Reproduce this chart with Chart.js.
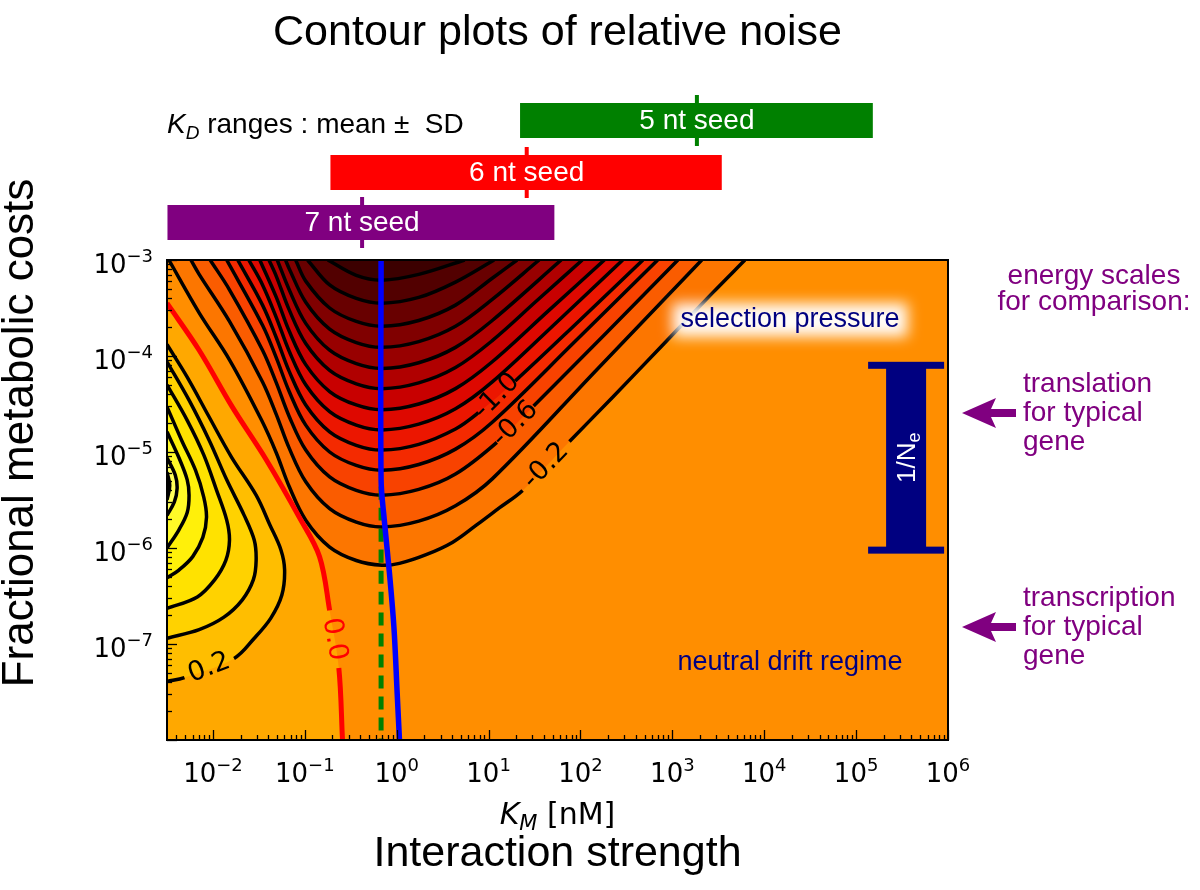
<!DOCTYPE html>
<html>
<head>
<meta charset="utf-8">
<script src="https://cdn.jsdelivr.net/npm/chart.js@4.4.0/dist/chart.umd.min.js"></script>
<style>
  html, body { margin: 0; padding: 0; background: #fff; }
</style>
</head>
<body>
<canvas id="noiseChart" width="1200" height="890"></canvas>
<script>
// ---- data (log10 K_M [nM], log10 fractional cost) ----
const xTickPowers = [-2, -1, 0, 1, 2, 3, 4, 5, 6];
const yTickPowers = [-7, -6, -5, -4, -3];

// zero contour (red) and positive contours (C shapes on the left)
const zeroLine = [[-2.50,-3.45],[-2.15,-3.94],[-1.79,-4.53],[-1.42,-5.08],[-1.06,-5.68],[-0.84,-6.09],[-0.73,-6.65],[-0.63,-7.25],[-0.59,-8.00]];
const pos02 = [[-2.50,-3.88],[-2.28,-4.22],[-2.05,-4.62],[-1.80,-5.05],[-1.53,-5.45],[-1.38,-5.76],[-1.26,-6.02],[-1.22,-6.23],[-1.25,-6.49],[-1.37,-6.73],[-1.55,-6.94],[-1.77,-7.15],[-2.31,-7.35],[-2.50,-7.39]];
const pos04 = [[-2.50,-4.06],[-2.26,-4.46],[-2.04,-4.88],[-1.85,-5.29],[-1.66,-5.66],[-1.55,-5.92],[-1.53,-6.13],[-1.56,-6.33],[-1.68,-6.54],[-1.88,-6.72],[-2.15,-6.85],[-2.50,-6.94]];
const pos06 = [[-2.50,-4.30],[-2.28,-4.67],[-2.10,-5.03],[-1.96,-5.40],[-1.85,-5.71],[-1.82,-5.92],[-1.86,-6.13],[-1.98,-6.33],[-2.17,-6.51],[-2.50,-6.63]];
const pos08 = [[-2.50,-4.53],[-2.34,-4.88],[-2.19,-5.19],[-2.10,-5.47],[-2.07,-5.68],[-2.11,-5.89],[-2.22,-6.09],[-2.37,-6.23],[-2.50,-6.31]];
const pos10 = [[-2.50,-4.79],[-2.37,-5.06],[-2.28,-5.29],[-2.26,-5.45],[-2.28,-5.63],[-2.37,-5.81],[-2.50,-6.00]];
const pos12 = [[-2.50,-5.06],[-2.41,-5.24],[-2.39,-5.38],[-2.42,-5.52],[-2.50,-5.66]];
const pos14 = [[-2.50,-5.21],[-2.47,-5.35],[-2.50,-5.50]];

// negative contours (U shapes opening to the top)
const neg02 = [[-2.48,-3.00],[-2.15,-3.55],[-1.82,-4.04],[-1.47,-4.67],[-1.31,-5.01],[-1.17,-5.36],[-0.99,-5.71],[-0.73,-5.99],[-0.44,-6.13],[-0.16,-6.18],[0.03,-6.16],[0.32,-6.07],[0.61,-5.94],[0.87,-5.76],[1.12,-5.58],[1.37,-5.40],[1.88,-4.89],[2.35,-4.43],[2.89,-3.89],[3.44,-3.34],[3.79,-3.00]];
const neg04 = [[-2.24,-3.00],[-2.15,-3.15],[-1.82,-3.64],[-1.46,-4.27],[-1.31,-4.61],[-1.17,-4.96],[-0.99,-5.31],[-0.73,-5.59],[-0.44,-5.73],[-0.16,-5.78],[0.24,-5.72],[0.64,-5.56],[1.04,-5.28],[2.18,-4.14],[3.32,-3.00]];
const neg06 = [[-2.03,-3.00],[-1.82,-3.31],[-1.46,-3.94],[-1.31,-4.28],[-1.17,-4.63],[-0.99,-4.98],[-0.73,-5.26],[-0.44,-5.40],[-0.16,-5.45],[0.24,-5.39],[0.64,-5.23],[1.09,-4.90],[1.49,-4.52],[2.28,-3.76],[3.06,-3.00]];
const neg08 = [[-1.85,-3.00],[-1.46,-3.68],[-1.31,-4.02],[-1.17,-4.37],[-0.99,-4.72],[-0.73,-5.00],[-0.44,-5.14],[-0.16,-5.19],[0.24,-5.13],[0.64,-4.97],[1.04,-4.69],[1.94,-3.85],[2.84,-3.00]];
const neg10 = [[-1.73,-3.00],[-1.46,-3.47],[-1.31,-3.81],[-1.17,-4.16],[-0.99,-4.51],[-0.73,-4.79],[-0.44,-4.93],[-0.16,-4.98],[0.24,-4.92],[0.64,-4.76],[0.89,-4.59],[1.29,-4.26],[1.99,-3.63],[2.68,-3.00]];
const neg12 = [[-1.61,-3.00],[-1.46,-3.26],[-1.31,-3.60],[-1.17,-3.95],[-0.99,-4.30],[-0.73,-4.58],[-0.44,-4.72],[-0.16,-4.77],[0.24,-4.71],[0.64,-4.55],[1.04,-4.27],[1.75,-3.64],[2.46,-3.00]];
const neg14 = [[-1.49,-3.00],[-1.31,-3.39],[-1.17,-3.74],[-0.99,-4.09],[-0.73,-4.37],[-0.44,-4.51],[-0.16,-4.56],[0.24,-4.50],[0.64,-4.34],[1.04,-4.06],[1.65,-3.53],[2.26,-3.00]];
const neg16 = [[-1.39,-3.00],[-1.31,-3.17],[-1.17,-3.52],[-0.99,-3.87],[-0.73,-4.15],[-0.44,-4.29],[-0.16,-4.34],[0.24,-4.28],[0.64,-4.12],[1.04,-3.84],[1.53,-3.42],[2.02,-3.00]];
const neg18 = [[-1.30,-3.00],[-1.17,-3.31],[-0.99,-3.66],[-0.73,-3.94],[-0.44,-4.08],[-0.16,-4.13],[0.24,-4.07],[0.64,-3.91],[1.04,-3.63],[1.79,-3.00]];
const neg20 = [[-1.21,-3.00],[-1.17,-3.09],[-0.99,-3.44],[-0.73,-3.72],[-0.44,-3.86],[-0.16,-3.91],[0.24,-3.85],[0.64,-3.69],[1.04,-3.41],[1.55,-3.00]];
const neg22 = [[-1.10,-3.00],[-0.99,-3.22],[-0.73,-3.50],[-0.44,-3.64],[-0.16,-3.69],[0.24,-3.63],[0.64,-3.47],[1.04,-3.19],[1.31,-3.00]];
const neg24 = [[-0.97,-3.00],[-0.73,-3.26],[-0.44,-3.40],[-0.16,-3.45],[0.24,-3.39],[0.64,-3.23],[1.06,-3.00]];
const neg26 = [[-0.75,-3.00],[-0.44,-3.16],[-0.16,-3.21],[0.24,-3.15],[0.74,-3.00]];

// blue curve and green dashed line
const blueLine = [[-0.17,-3.00],[-0.17,-5.29],[-0.135,-5.71],[-0.08,-6.25],[-0.03,-6.83],[0.006,-7.53],[0.03,-8.00]];
const greenLine = [[-0.17,-5.36],[-0.17,-8.00]];

// contour labels
const labelText = ['-1.0', '-0.6', '-0.2', '0.2', '0.0'];
const labelAt = [[1.09,-4.42],[1.29,-4.71],[1.625,-5.145],[-2.04,-7.25],[-0.68,-6.95]];

// K_D ranges [nM]: low, mean, high
const seedNames = ['7 nt seed', '6 nt seed', '5 nt seed'];
const seedLow = [0.0032, 0.19, 22];
const seedMean = [0.42, 26, 1850];
const seedHigh = [52, 3450, 152000];

// 1/Ne range and energy scales
const invNeRange = [9.5e-7, 8e-5];
const invNeKm = 3.5e5;
const energyNames = [['translation', 'for typical', 'gene'], ['transcription', 'for typical', 'gene']];
const energyCost = [2.55e-5, 1.5e-7];

// ---- styles ----
const SANS = '"Liberation Sans", Arial, sans-serif';
const DEJAVU = '"DejaVu Sans", sans-serif';
const labelAngle = [-45, -45, -46, -21, 80];
const labelColor = ['#000', '#000', '#000', '#000', '#ff0000'];
const posFills = ['rgb(255,190,0)', 'rgb(255,210,0)', 'rgb(255,226,0)', 'rgb(255,240,10)', 'rgb(255,250,40)', 'rgb(255,255,90)', 'rgb(255,255,140)'];
const negFills = ['rgb(252,118,0)', 'rgb(250,92,0)', 'rgb(248,66,0)', 'rgb(244,42,0)', 'rgb(236,22,0)', 'rgb(222,8,0)',
  'rgb(200,0,0)', 'rgb(176,0,0)', 'rgb(152,0,0)', 'rgb(128,0,0)', 'rgb(104,0,0)', 'rgb(82,0,0)', 'rgb(60,0,0)'];

const posContours = [pos02, pos04, pos06, pos08, pos10, pos12, pos14];
const negContours = [neg02, neg04, neg06, neg08, neg10, neg12, neg14, neg16, neg18, neg20, neg22, neg24, neg26];

const toPts = arr => arr.map(p => ({ x: 10 ** p[0], y: 10 ** p[1] }));
const datasets = [];
function addFill(arr, color) {
  datasets.push({ data: toPts(arr), showLine: true, fill: 'shape', backgroundColor: color,
    borderColor: 'rgba(0,0,0,0)', borderWidth: 1, pointRadius: 0, tension: 0.35, clip: 0 });
}
function addLine(arr, color, width, gap, dash) {
  const ds = { data: toPts(arr), showLine: true, fill: false, borderColor: color, borderWidth: width,
    borderDash: dash || [], borderJoinStyle: 'round', pointRadius: 0, tension: 0.35, clip: 0 };
  if (gap != null) ds.segment = { borderColor: c => c.p0DataIndex === gap ? 'rgba(0,0,0,0)' : undefined };
  datasets.push(ds);
}

// fills, outer bands first
addFill([[-2.6,-3.40]].concat(zeroLine, [[-0.59,-8.1],[-2.6,-8.1]]), 'rgb(255,168,0)');
posContours.forEach((c, i) => addFill(c, posFills[i]));
negContours.forEach((c, i) => addFill(c, negFills[i]));
// contour lines
const posGaps = [11];
const negGaps = { 0: 15, 2: 11, 4: 10 };
posContours.forEach((c, i) => addLine(c, '#000', 3.5, posGaps[i]));
negContours.forEach((c, i) => addLine(c, '#000', 3.5, negGaps[i]));
addLine(zeroLine, '#ff0000', 5, 6);
addLine(greenLine, '#008000', 5, null, [13, 8]);
addLine(blueLine, '#0000ff', 5.5);
datasets.forEach((d, i) => { d.order = datasets.length - i; });

function richText(ctx, parts, x, y, align) {
  let total = 0;
  parts.forEach(p => { ctx.font = p.font; p.w = ctx.measureText(p.text).width; total += p.w; });
  let cx = align === 'center' ? x - total / 2 : align === 'right' ? x - total : x;
  ctx.textAlign = 'left';
  ctx.textBaseline = 'alphabetic';
  parts.forEach(p => { ctx.font = p.font; ctx.fillText(p.text, cx, y + (p.dy || 0)); cx += p.w; });
}
function powParts(p) {
  return [{ text: '10', font: `26px ${DEJAVU}` }, { text: (p < 0 ? '\u2212' : '') + Math.abs(p), font: `18px ${DEJAVU}`, dy: -11 }];
}

const decorations = {
  id: 'decorations',
  beforeDatasetsDraw(chart) {
    const { ctx, chartArea: a } = chart;
    ctx.save();
    ctx.fillStyle = 'rgb(255,142,0)';
    ctx.fillRect(a.left, a.top, a.width, a.height);
    ctx.restore();
  },
  afterDatasetsDraw(chart) {
    const { ctx, chartArea: a, scales: { x, y } } = chart;
    ctx.save();
    // contour labels
    labelText.forEach((t, i) => {
      ctx.save();
      ctx.translate(x.getPixelForValue(10 ** labelAt[i][0]), y.getPixelForValue(10 ** labelAt[i][1]));
      ctx.rotate(labelAngle[i] * Math.PI / 180);
      ctx.font = `27px ${DEJAVU}`;
      ctx.fillStyle = labelColor[i];
      ctx.textAlign = 'center';
      ctx.textBaseline = 'middle';
      ctx.fillText(t, 0, 0);
      ctx.restore();
    });

    // regime texts
    const sx = x.getPixelForValue(10 ** 4.28);
    const sy = y.getPixelForValue(10 ** -3.625);
    ctx.font = `27px ${SANS}`;
    const sw = ctx.measureText('selection pressure').width;
    ctx.save();
    ctx.filter = 'blur(7px)';
    ctx.fillStyle = 'rgba(255,255,255,0.97)';
    ctx.fillRect(sx - sw / 2 - 8, sy - 17, sw + 16, 34);
    ctx.restore();
    ctx.fillStyle = '#000080';
    ctx.textAlign = 'center';
    ctx.textBaseline = 'middle';
    ctx.font = `27px ${SANS}`;
    ctx.fillText('selection pressure', sx, sy);
    ctx.fillText('neutral drift regime', sx, y.getPixelForValue(10 ** -7.19));

    // 1/Ne bar
    const bx = x.getPixelForValue(invNeKm);
    const yt = y.getPixelForValue(invNeRange[1]);
    const yb = y.getPixelForValue(invNeRange[0]);
    ctx.fillStyle = '#000080';
    ctx.fillRect(bx - 20, yt, 40, yb - yt);
    ctx.fillRect(bx - 38, yt - 3.5, 76, 7);
    ctx.fillRect(bx - 38, yb - 3.5, 76, 7);
    ctx.save();
    ctx.translate(bx + 9, (yt + yb) / 2);
    ctx.rotate(-Math.PI / 2);
    ctx.fillStyle = '#fff';
    richText(ctx, [{ text: '1/N', font: `26px ${SANS}` }, { text: 'e', font: `18px ${SANS}`, dy: 5 }], 0, 0, 'center');
    ctx.restore();

    // frame and inward ticks
    ctx.strokeStyle = '#000';
    ctx.lineWidth = 1.3;
    for (let p = -3; p <= 6; p++) {
      for (let m = 1; m <= 9; m++) {
        const v = m * 10 ** p;
        if (v < x.min || v > x.max) continue;
        const px = Math.round(x.getPixelForValue(v)) + 0.5;
        ctx.beginPath();
        ctx.moveTo(px, a.bottom);
        ctx.lineTo(px, a.bottom - (m === 1 ? 10 : 5));
        ctx.stroke();
      }
    }
    for (let p = -8; p <= -3; p++) {
      for (let m = 1; m <= 9; m++) {
        const v = m * 10 ** p;
        if (v < y.min || v > y.max) continue;
        const py = Math.round(y.getPixelForValue(v)) + 0.5;
        ctx.beginPath();
        ctx.moveTo(a.left, py);
        ctx.lineTo(a.left + (m === 1 ? 10 : 5), py);
        ctx.stroke();
      }
    }
    ctx.lineWidth = 2;
    ctx.strokeRect(a.left, a.top, a.width, a.height);
    ctx.restore();
  },
  afterDraw(chart) {
    const { ctx, chartArea: a, scales: { x, y } } = chart;
    const cx = (a.left + a.right) / 2;
    ctx.save();
    ctx.fillStyle = '#000';
    xTickPowers.forEach(p => richText(ctx, powParts(p), x.getPixelForValue(10 ** p), 782, 'center'));
    yTickPowers.forEach(p => richText(ctx, powParts(p), 153, y.getPixelForValue(10 ** p) + 13, 'right'));

    richText(ctx, [{ text: 'K', font: `italic 30px ${DEJAVU}` }, { text: 'M', font: `italic 21px ${DEJAVU}`, dy: 6 },
      { text: ' [nM]', font: `30px ${DEJAVU}` }], cx, 824, 'center');
    ctx.font = `43px ${SANS}`;
    ctx.textAlign = 'center';
    ctx.textBaseline = 'alphabetic';
    ctx.fillText('Interaction strength', cx, 866);
    ctx.fillText('Contour plots of relative noise', cx, 45);
    ctx.save();
    ctx.translate(33, 433);
    ctx.rotate(-Math.PI / 2);
    ctx.font = `44px ${SANS}`;
    ctx.fillText('Fractional metabolic costs', 0, 0);
    ctx.restore();

    // K_D ranges
    richText(ctx, [{ text: 'K', font: `italic 28px ${SANS}` }, { text: 'D', font: `italic 19px ${SANS}`, dy: 6 },
      { text: ' ranges : mean \u00b1  SD', font: `28px ${SANS}` }], a.left, 133, 'left');
    const seedColors = ['#800080', '#ff0000', '#008000'];
    const seedTop = [205, 155, 103];
    seedNames.forEach((name, i) => {
      const x0 = Math.max(x.getPixelForValue(seedLow[i]), a.left);
      const x1 = x.getPixelForValue(seedHigh[i]);
      const xm = x.getPixelForValue(seedMean[i]);
      ctx.fillStyle = seedColors[i];
      ctx.fillRect(x0, seedTop[i], x1 - x0, 35);
      ctx.fillRect(xm - 2, seedTop[i] - 8, 4, 51);
      ctx.fillStyle = '#fff';
      ctx.font = `28px ${SANS}`;
      ctx.textAlign = 'center';
      ctx.textBaseline = 'middle';
      ctx.fillText(name, xm, seedTop[i] + 18);
    });

    // energy scales
    ctx.fillStyle = '#800080';
    ctx.font = `28px ${SANS}`;
    ctx.textAlign = 'center';
    ctx.textBaseline = 'alphabetic';
    ctx.fillText('energy scales', 1094, 284);
    ctx.fillText('for comparison:', 1094, 310);
    ctx.textAlign = 'left';
    energyNames.forEach((lines, i) => {
      const ay = y.getPixelForValue(energyCost[i]);
      const tip = 962;
      ctx.beginPath();
      ctx.moveTo(tip, ay);
      ctx.lineTo(tip + 34, ay - 15);
      ctx.lineTo(tip + 29, ay - 4);
      ctx.lineTo(tip + 54, ay - 4);
      ctx.lineTo(tip + 54, ay + 4);
      ctx.lineTo(tip + 29, ay + 4);
      ctx.lineTo(tip + 34, ay + 15);
      ctx.closePath();
      ctx.fill();
      lines.forEach((ln, j) => ctx.fillText(ln, 1023, ay - 21 + j * 29));
    });
    ctx.restore();
  }
};

new Chart(document.getElementById('noiseChart'), {
  type: 'scatter',
  data: { datasets },
  options: {
    responsive: false,
    animation: false,
    devicePixelRatio: 1,
    layout: { padding: { left: 0, right: 252, top: 260, bottom: 0 } },
    plugins: { legend: { display: false }, tooltip: { enabled: false } },
    scales: {
      x: { type: 'logarithmic', min: 10 ** -2.5, max: 1e6, grid: { display: false }, border: { display: false },
        ticks: { display: false }, afterFit: s => { s.height = 150; } },
      y: { type: 'logarithmic', min: 1e-8, max: 1e-3, grid: { display: false }, border: { display: false },
        ticks: { display: false }, afterFit: s => { s.width = 167; } }
    }
  },
  plugins: [decorations]
});
</script>
</body>
</html>
